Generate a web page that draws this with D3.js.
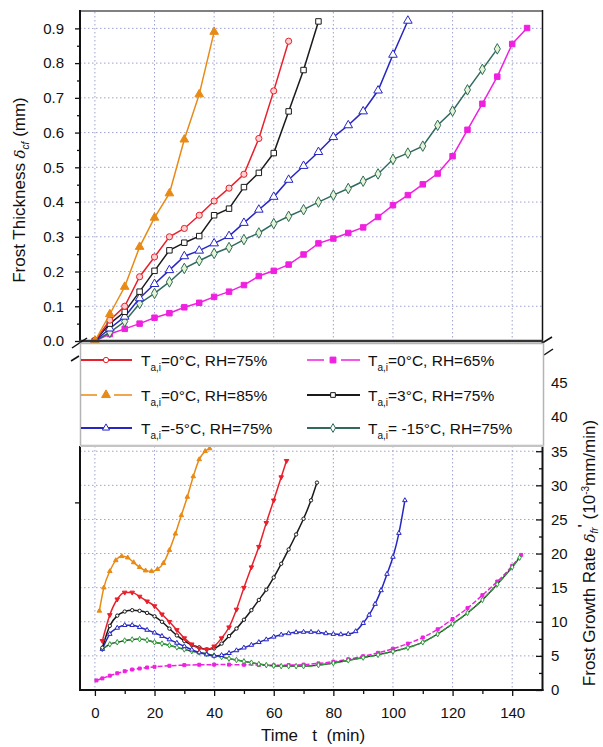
<!DOCTYPE html>
<html>
<head>
<meta charset="utf-8">
<script src="https://cdn.jsdelivr.net/npm/d3@7"></script>
<style>
body{margin:0;background:#fff;}
text{font-family:"Liberation Sans",Arial,sans-serif;fill:#111;}
</style>
</head>
<body>
<svg id="graph"></svg>
<script>
// ---- frost thickness (top), one value every 5 min starting at 0
var topTime = [0,5,10,15,20,25,30,35,40,45,50,55,60,65,70,75,80,85,90,95,100,105,110,115,120,125,130,135,140,145];
var thickRH75 = [0,0.06,0.10,0.185,0.242,0.30,0.324,0.362,0.403,0.44,0.48,0.583,0.72,0.863];
var thickRH85 = [0,0.077,0.156,0.271,0.355,0.425,0.58,0.71,0.89];
var thickRH65 = [0,0.02,0.035,0.05,0.067,0.08,0.097,0.11,0.127,0.142,0.161,0.187,0.202,0.22,0.249,0.281,0.295,0.311,0.327,0.357,0.391,0.42,0.451,0.482,0.532,0.608,0.683,0.761,0.855,0.901];
var thickT3 = [0,0.05,0.084,0.142,0.202,0.261,0.283,0.302,0.362,0.381,0.443,0.484,0.541,0.661,0.78,0.92];
var thickTm5 = [0,0.036,0.07,0.123,0.164,0.204,0.244,0.26,0.281,0.302,0.34,0.378,0.415,0.464,0.504,0.544,0.587,0.621,0.661,0.721,0.824,0.922];
var thickTm15 = [0,0.025,0.056,0.108,0.137,0.17,0.209,0.231,0.252,0.269,0.292,0.311,0.338,0.359,0.378,0.40,0.42,0.439,0.46,0.481,0.523,0.541,0.561,0.621,0.662,0.723,0.782,0.841];

// ---- frost growth rate (bottom)
var rateTimeRH75 = [2.5,5,7.5,10,12.5,15,17.5,20,22.5,25,27.5,30,32.5,35,37.5,40,42.5,45,47.5,50,52.5,55,57.5,60,62.5,64.3];
var rateRH75 = [7.2,11.0,13.3,14.3,14.3,13.7,13.0,12.3,11.1,10.0,8.8,7.6,6.7,6.1,5.95,6.4,7.6,9.2,11.8,15.0,18.0,21.0,24.5,27.8,31.2,33.6];
var rateTimeRH85 = [1.5,3,5,7,9,11,13,15,17,19,21,23,25,27,29,31,33,35,37,38.5];
var rateRH85 = [11.6,15.0,17.4,19.0,19.6,19.4,18.7,18.0,17.5,17.4,17.7,18.6,20.5,22.9,25.6,28.3,31.3,33.8,35.0,35.4];
var rateTimeRH65 = [0.5,2.5,5,7.5,10,12.5,15,17.5,20,25,30,35,40,45,50,55,60,65,70,75,80,85,90,95,100,105,110,115,120,125,130,135,140,143];
var rateRH65 = [1.4,1.7,2.1,2.45,2.75,3.0,3.15,3.3,3.4,3.55,3.65,3.7,3.72,3.72,3.7,3.65,3.62,3.65,3.72,3.9,4.15,4.5,4.95,5.45,6.05,6.8,7.7,8.9,10.4,12.0,13.9,15.9,18.2,19.8];
var rateTimeT3 = [2.5,5,7.5,10,12.5,15,17.5,20,22.5,25,27.5,30,32.5,35,37.5,40,42.5,45,47.5,50,52.5,55,57.5,60,62.5,65,67.5,70,72.5,74.5];
var rateT3 = [6.2,9.4,10.9,11.5,11.7,11.6,11.3,10.8,10.0,9.0,8.0,7.2,6.6,6.25,5.95,6.1,6.8,7.9,9.0,10.3,11.7,13.2,14.7,16.5,18.5,20.6,22.8,25.1,27.8,30.4];
var rateTimeTm5 = [2.5,5,7.5,10,12.5,15,17.5,20,22.5,25,27.5,30,32.5,35,37.5,40,42.5,45,47.5,50,52.5,55,57.5,60,62.5,65,67.5,70,72.5,75,77.5,80,82.5,85,87.5,90,92,94,96,98,100,102,104];
var rateTm5 = [6.0,8.2,9.1,9.5,9.5,9.2,8.8,8.4,7.9,7.4,6.9,6.4,5.9,5.5,5.2,5.0,5.1,5.4,5.8,6.2,6.6,7.0,7.4,7.8,8.1,8.3,8.45,8.5,8.5,8.45,8.3,8.2,8.15,8.2,8.6,9.8,11.0,12.6,14.6,17.0,19.5,23.0,27.8];
var rateTimeTm15 = [2.5,5,7.5,10,12.5,15,17.5,20,22.5,25,27.5,30,32.5,35,37.5,40,42.5,45,47.5,50,52.5,55,57.5,60,62.5,65,67.5,70,75,80,85,90,95,100,105,110,115,120,125,130,135,140,142.5];
var rateTm15 = [6.0,6.7,7.0,7.25,7.4,7.45,7.3,7.0,6.8,6.55,6.25,5.95,5.7,5.5,5.3,5.05,4.85,4.6,4.4,4.2,4.0,3.8,3.65,3.55,3.5,3.5,3.5,3.5,3.65,3.95,4.35,4.75,5.15,5.65,6.2,7.0,8.2,9.7,11.3,13.2,15.5,18.0,19.4];

// ---- ticks
var thickTicks = [0,0.1,0.2,0.3,0.4,0.5,0.6,0.7,0.8,0.9];
var thickMinor = [0.05,0.15,0.25,0.35,0.45,0.55,0.65,0.75,0.85];
var timeTicks = [0,20,40,60,80,100,120,140];
var timeMinor = [10,30,50,70,90,110,130];
var rateTicks = [0,5,10,15,20,25,30,35,40,45];
var rateMinor = [2.5,7.5,12.5,17.5,22.5,27.5,32.5];
var rateGrid = [5,10,15,20,25,30,35];
var leftBotTicks = [27.5];

// legend text, split as T + subscript + rest
var legendRest = {
    rh75:"=0\u00b0C, RH=75%", rh65:"=0\u00b0C, RH=65%",
    rh85:"=0\u00b0C, RH=85%", t3:"=3\u00b0C, RH=75%",
    tm5:"=-5\u00b0C, RH=75%", tm15:"= -15\u00b0C, RH=75%"
};
var legendRows = [["rh75","rh65"],["rh85","t3"],["tm5","tm15"]];

var series = {
    rh75:{color:"#e8202c", sym:"circle", fill:"#ffd0d0", dashed:false, botSym:"down", thick:thickRH75, rt:rateTimeRH75, rv:rateRH75},
    rh65:{color:"#f020e0", sym:"square", fill:"#f020e0", dashed:true, botSym:"square", thick:thickRH65, rt:rateTimeRH65, rv:rateRH65},
    rh85:{color:"#e88a14", sym:"triangle", fill:"#e88a14", dashed:true, botSym:"triangle", thick:thickRH85, rt:rateTimeRH85, rv:rateRH85},
    t3:{color:"#1a1a1a", sym:"square", fill:"#fff", dashed:false, botSym:"circle", thick:thickT3, rt:rateTimeT3, rv:rateT3},
    tm5:{color:"#2626c4", sym:"triangle", fill:"#fff", dashed:false, botSym:"triangle", thick:thickTm5, rt:rateTimeTm5, rv:rateTm5},
    tm15:{color:"#2f6a5c", sym:"diamond", fill:"#e4f4d4", dashed:false, botSym:"diamond", botColor:"#2e9a3a", thick:thickTm15, rt:rateTimeTm15, rv:rateTm15}
};
var drawOrder = ["rh65","tm15","tm5","t3","rh75","rh85"];

var screen = {width:603, height:747};
var xScale = d3.scaleLinear().domain([-5,150]).range([80,542]);
var yTop = d3.scaleLinear().domain([0,0.95]).range([341,11]);
var yBot = d3.scaleLinear().domain([0,45]).range([690,383]);

var svg = d3.select("#graph")
    .attr("width",screen.width)
    .attr("height",screen.height);

var symbolPath = function(name,size)
{
    var t = d3.symbolCircle;
    if(name=="square") t = d3.symbolSquare;
    if(name=="triangle" || name=="down") t = d3.symbolTriangle;
    if(name=="diamond") t = d3.symbolDiamond;
    return d3.symbol().type(t).size(size)();
}

var drawMarker = function(g,name,x,y,size,stroke,fill)
{
    g.append("path")
        .attr("d",symbolPath(name,size))
        .attr("transform","translate("+x+","+y+")"+(name=="down"?" rotate(180)":""))
        .attr("fill",fill)
        .attr("stroke",stroke)
        .attr("stroke-width",1);
}

var drawGrid = function()
{
    var grid = svg.append("g").attr("stroke","#9ea2cc").attr("stroke-width",1)
        .attr("stroke-dasharray","1.5,2.5");
    grid.selectAll("line.ht").data(thickTicks.slice(1)).enter().append("line")
        .attr("x1",80).attr("x2",542)
        .attr("y1",function(d){return yTop(d);}).attr("y2",function(d){return yTop(d);});
    grid.selectAll("line.vt").data(timeTicks).enter().append("line")
        .attr("x1",function(d){return xScale(d);}).attr("x2",function(d){return xScale(d);})
        .attr("y1",12).attr("y2",340);
    grid.selectAll("line.hb").data(rateGrid).enter().append("line")
        .attr("x1",80).attr("x2",542)
        .attr("y1",function(d){return yBot(d);}).attr("y2",function(d){return yBot(d);});
    grid.selectAll("line.vb").data(timeTicks).enter().append("line")
        .attr("x1",function(d){return xScale(d);}).attr("x2",function(d){return xScale(d);})
        .attr("y1",446).attr("y2",689);
}

var drawTop = function()
{
    var g = svg.append("g");
    drawOrder.forEach(function(key)
    {
        var s = series[key];
        var pts = s.thick.map(function(v,i){return [topTime[i],v];});
        var line = d3.line()
            .x(function(d){return xScale(d[0]);})
            .y(function(d){return yTop(d[1]);});
        g.append("path").attr("d",line(pts))
            .attr("fill","none").attr("stroke",s.color).attr("stroke-width",1.5);
        var size = s.sym=="circle" ? 30 : (s.sym=="square" ? 30 : 32);
        pts.forEach(function(p)
        {
            drawMarker(g,s.sym,xScale(p[0]),yTop(p[1]),size,s.color,s.fill);
        });
    });
}

var drawBottom = function()
{
    var g = svg.append("g");
    drawOrder.forEach(function(key)
    {
        var s = series[key];
        var col = s.botColor || s.color;
        var pts = s.rt.map(function(t,i){return [t,s.rv[i]];});
        var line = d3.line()
            .curve(d3.curveMonotoneX)
            .x(function(d){return xScale(d[0]);})
            .y(function(d){return yBot(d[1]);});
        if(key=="tm15")
        {
            g.append("path").attr("d",line(pts))
                .attr("fill","none").attr("stroke","#333").attr("stroke-width",1.3);
        }
        g.append("path").attr("d",line(pts))
            .attr("fill","none").attr("stroke",col).attr("stroke-width",1.5)
            .attr("stroke-dasharray",(key=="tm15"||key=="rh65")?"5,2":null);
        pts.forEach(function(p)
        {
            var open = (key=="t3"||key=="tm5"||key=="tm15");
            drawMarker(g,s.botSym,xScale(p[0]),yBot(p[1]),9,col,open?"#fff":col);
        });
    });
}

var createAxes = function()
{
    var left = svg.append("g").attr("transform","translate(80,0)");
    left.call(d3.axisLeft(yTop).tickValues(thickTicks).tickFormat(d3.format(".1f"))
        .tickSize(5).tickPadding(11));
    left.append("g").call(d3.axisLeft(yTop).tickValues(thickMinor).tickFormat("").tickSize(3));
    left.selectAll(".domain").remove();

    var bottom = svg.append("g").attr("transform","translate(0,690)");
    bottom.call(d3.axisBottom(xScale).tickValues(timeTicks).tickSize(6).tickPadding(11));
    bottom.append("g").call(d3.axisBottom(xScale).tickValues(timeMinor).tickFormat("").tickSize(4));
    bottom.selectAll(".domain").remove();

    var right = svg.append("g").attr("transform","translate(542,0)");
    right.call(d3.axisRight(yBot).tickValues(rateTicks).tickSize(-6).tickPadding(9));
    right.append("g").call(d3.axisRight(yBot).tickValues(rateMinor).tickFormat("").tickSize(-3));
    right.selectAll(".domain").remove();

    var leftBot = svg.append("g").attr("transform","translate(80,0)");
    leftBot.call(d3.axisLeft(yBot).tickValues(leftBotTicks).tickFormat("").tickSize(5));
    leftBot.selectAll(".domain").remove();

    svg.selectAll(".tick text").style("font-size","15px")
        .style("font-family","'Liberation Sans',Arial,sans-serif").attr("fill","#111");
    svg.selectAll(".tick line").attr("stroke","#111").attr("stroke-width",1.3);

    // frames
    var f = svg.append("g").attr("fill","none");
    f.append("line").attr("x1",80).attr("x2",543).attr("y1",11).attr("y2",11)
        .attr("stroke","#808080").attr("stroke-width",2);
    f.append("line").attr("x1",80).attr("x2",80).attr("y1",10).attr("y2",341)
        .attr("stroke","#111").attr("stroke-width",2);
    f.append("line").attr("x1",542.5).attr("x2",542.5).attr("y1",10).attr("y2",341)
        .attr("stroke","#111").attr("stroke-width",1.5);
    f.append("line").attr("x1",79).attr("x2",543).attr("y1",341).attr("y2",341)
        .attr("stroke","#333").attr("stroke-width",2.5);
    f.append("line").attr("x1",80).attr("x2",80).attr("y1",446).attr("y2",691)
        .attr("stroke","#111").attr("stroke-width",2);
    f.append("line").attr("x1",542.5).attr("x2",542.5).attr("y1",446).attr("y2",691)
        .attr("stroke","#111").attr("stroke-width",2);
    f.append("line").attr("x1",79).attr("x2",543.5).attr("y1",690).attr("y2",690)
        .attr("stroke","#111").attr("stroke-width",2);

    // axis break marks
    var br = svg.append("g").attr("stroke","#111").attr("stroke-width",1.5);
    br.append("line").attr("x1",72).attr("y1",348).attr("x2",87).attr("y2",338);
    br.append("line").attr("x1",71).attr("y1",361).attr("x2",79).attr("y2",356);
    br.append("line").attr("x1",539).attr("y1",345).attr("x2",552).attr("y2",337);
    br.append("line").attr("x1",544).attr("y1",355).attr("x2",553).attr("y2",349);
}

var drawLegend = function()
{
    var lg = svg.append("g");
    lg.append("rect").attr("x",80.5).attr("y",343.5).attr("width",463).attr("height",102)
        .attr("fill","#fff").attr("stroke","#b4b4b4").attr("stroke-width",1.5);
    lg.append("line").attr("x1",80).attr("x2",544).attr("y1",446).attr("y2",446)
        .attr("stroke","#c4c4c4").attr("stroke-width",2);
    var rowY = [360,395,428];
    var cols = [{x0:81,mx:106,x1:132,tx:141},{x0:307,mx:333,x1:360,tx:368}];
    legendRows.forEach(function(row,ri)
    {
        row.forEach(function(key,ci)
        {
            var s = series[key], c = cols[ci], y = rowY[ri];
            if(s.dashed)
            {
                lg.append("line").attr("x1",c.x0).attr("x2",c.mx-9).attr("y1",y).attr("y2",y)
                    .attr("stroke",s.color).attr("stroke-width",1.5);
                lg.append("line").attr("x1",c.mx+8).attr("x2",c.x1).attr("y1",y).attr("y2",y)
                    .attr("stroke",s.color).attr("stroke-width",1.5);
            }
            else
            {
                lg.append("line").attr("x1",c.x0).attr("x2",c.x1).attr("y1",y).attr("y2",y)
                    .attr("stroke",s.color).attr("stroke-width",2);
            }
            drawMarker(lg,s.sym,c.mx,y,s.dashed?34:22,s.color,s.dashed?s.color:"#fff");
            var t = lg.append("text").attr("x",c.tx).attr("y",y+6).style("font-size","15.5px");
            t.append("tspan").text("T");
            t.append("tspan").attr("dy",5).style("font-size","10px").text("a,i");
            t.append("tspan").attr("dy",-5).text(legendRest[key]);
        });
    });
}

var drawTitles = function()
{
    var lt = svg.append("text").attr("transform","translate(25,190) rotate(-90)")
        .attr("text-anchor","middle").style("font-size","17px");
    lt.append("tspan").text("Frost Thickness  ");
    lt.append("tspan").style("font-style","italic").style("font-family","'DejaVu Serif',serif")
        .style("font-size","15px").text("\u03b4");
    lt.append("tspan").attr("dy",4).style("font-size","10px").style("font-style","italic").text("cf");
    lt.append("tspan").attr("dy",-4).text(" (mm)");

    svg.append("text").attr("x",313).attr("y",741).attr("text-anchor","middle")
        .attr("xml:space","preserve").style("white-space","pre").style("font-size","17px")
        .text("Time   t  (min)");

    var rt = svg.append("text").attr("transform","translate(595,553) rotate(-90)")
        .attr("text-anchor","middle").style("font-size","17px");
    rt.append("tspan").text("Frost Growth Rate ");
    rt.append("tspan").style("font-style","italic").style("font-family","'DejaVu Serif',serif")
        .style("font-size","15px").text("\u03b4");
    rt.append("tspan").attr("dy",3).style("font-size","10px").style("font-style","italic").text("fr");
    rt.append("tspan").attr("dy",-8).text("'");
    rt.append("tspan").attr("dy",5).text(" (10");
    rt.append("tspan").attr("dy",-6).style("font-size","10px").text("-3");
    rt.append("tspan").attr("dy",6).text("mm/min)");
}

drawGrid();
drawTop();
drawBottom();
createAxes();
drawLegend();
drawTitles();
</script>
</body>
</html>
